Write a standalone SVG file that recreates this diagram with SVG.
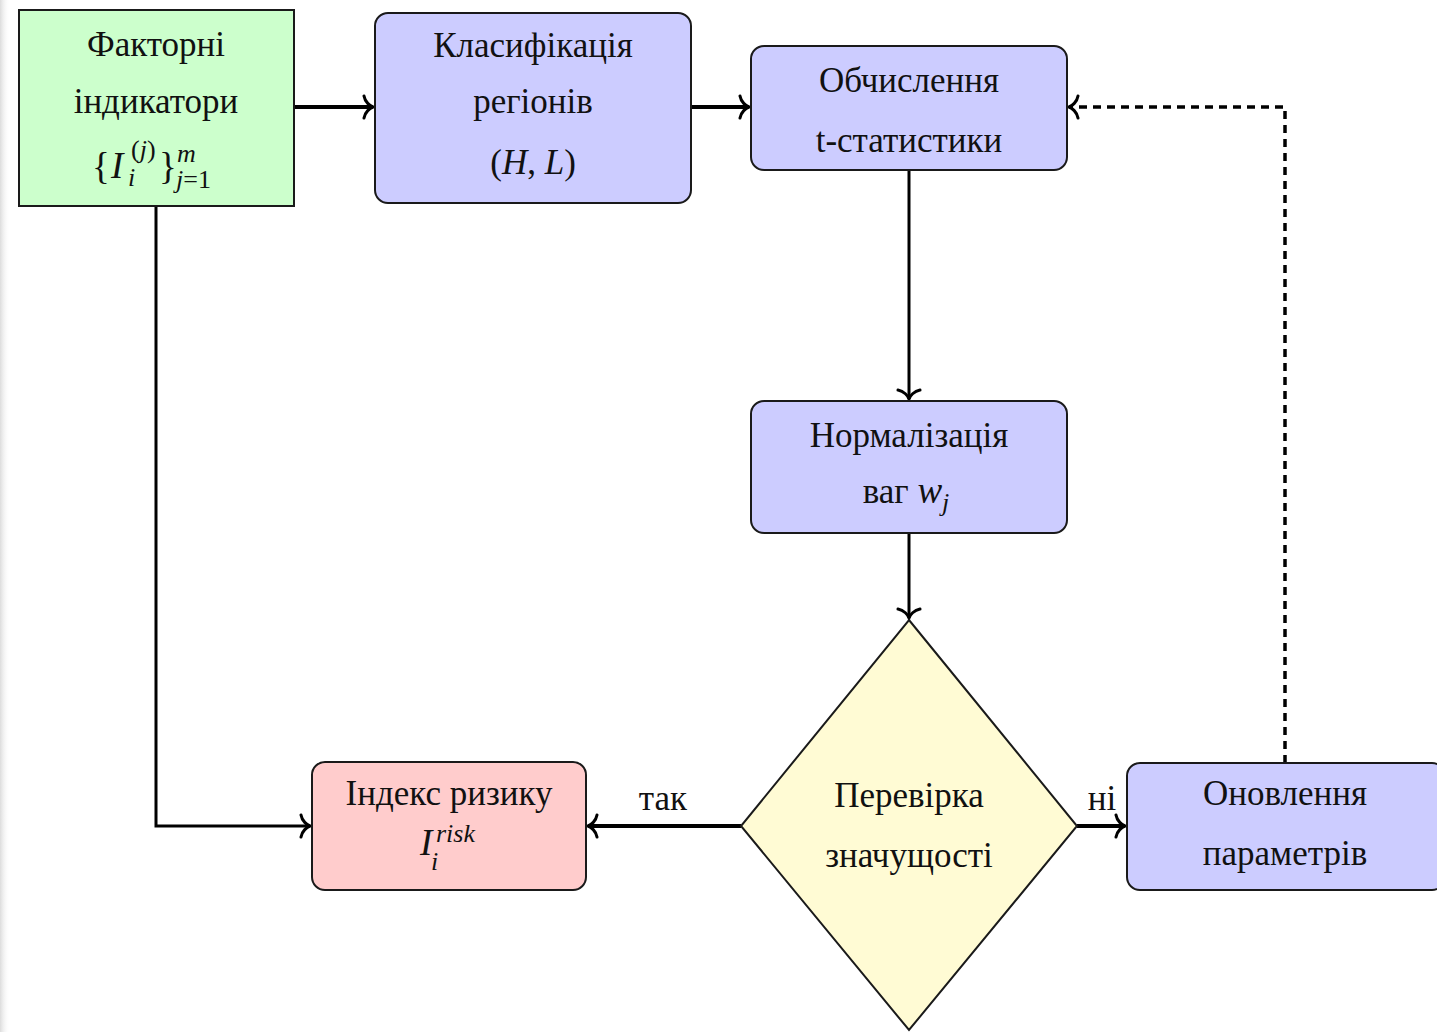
<svg xmlns="http://www.w3.org/2000/svg" width="1437" height="1032" viewBox="0 0 1437 1032">
<style>
  .t{font-family:"Liberation Serif","Times New Roman",serif;font-size:35px;fill:#111;text-anchor:middle}
  .m{font-family:"Liberation Serif","Times New Roman",serif;fill:#111}
  .i{font-style:italic}
  .node{stroke:#1a1a1a;stroke-width:2}
  .blue{fill:#ccccff}
  .conn{fill:none;stroke:#000;stroke-linejoin:miter}
</style>
<defs>
  <linearGradient id="edge" x1="0" y1="0" x2="1" y2="0">
    <stop offset="0" stop-color="#dcdcdc"/>
    <stop offset="1" stop-color="#ffffff" stop-opacity="0"/>
  </linearGradient>
  <marker id="ah" markerUnits="userSpaceOnUse" viewBox="-14 -14 16 28" refX="0" refY="0" markerWidth="16" markerHeight="28" orient="auto">
    <path d="M -9 -11 C -8 -5, -3 -1, 0 0 C -3 1, -8 5, -9 11" fill="none" stroke="#000" stroke-width="3" stroke-linecap="round"/>
  </marker>
</defs>
<rect x="0" y="0" width="1437" height="1032" fill="#ffffff"/>
<rect x="0" y="0" width="10" height="1032" fill="url(#edge)"/>

<g id="connectors">
  <path class="conn" d="M 294 107 L 373 107" stroke-width="4" marker-end="url(#ah)"/>
  <path class="conn" d="M 691 107 L 749 107" stroke-width="4" marker-end="url(#ah)"/>
  <path class="conn" d="M 909 170 L 909 399" stroke-width="3" marker-end="url(#ah)"/>
  <path class="conn" d="M 909 533 L 909 618" stroke-width="3" marker-end="url(#ah)"/>
  <path class="conn" d="M 156 206 L 156 826 L 310 826" stroke-width="3" marker-end="url(#ah)"/>
  <path class="conn" d="M 741 826 L 588 826" stroke-width="4" marker-end="url(#ah)"/>
  <path class="conn" d="M 1077 826 L 1125 826" stroke-width="4" marker-end="url(#ah)"/>
  <path class="conn" d="M 1285 763 L 1285 107 L 1069 107" stroke-width="3.5" stroke-dasharray="8 6" marker-end="url(#ah)"/>
  <text class="t" x="663" y="810">так</text>
  <text class="t" x="1102" y="810">ні</text>
</g>

<g id="node-factors">
  <rect class="node" x="19" y="10" width="275" height="196" fill="#ccffcc"/>
  <text class="t" x="156" y="56">Факторні</text>
  <text class="t" x="156" y="113">індикатори</text>
  <text class="m" x="92" y="179" font-size="37">{</text>
  <text class="m i" x="111" y="178" font-size="37">I</text>
  <text class="m" x="131" y="158" font-size="26">(<tspan class="i">j</tspan>)</text>
  <text class="m i" x="128" y="186" font-size="26">i</text>
  <text class="m" x="159" y="179" font-size="37">}</text>
  <text class="m i" x="177" y="162" font-size="26">m</text>
  <text class="m" x="176" y="188" font-size="26"><tspan class="i">j</tspan>=1</text>
</g>

<g id="node-classify">
  <rect class="node blue" x="375" y="13" width="316" height="190" rx="13"/>
  <text class="t" x="533" y="57">Класифікація</text>
  <text class="t" x="533" y="113">регіонів</text>
  <text class="t" x="533" y="174" font-size="37">(<tspan class="i">H</tspan>, <tspan class="i">L</tspan>)</text>
</g>

<g id="node-tstat">
  <rect class="node blue" x="751" y="46" width="316" height="124" rx="13"/>
  <text class="t" x="909" y="92">Обчислення</text>
  <text class="t" x="909" y="152">t-статистики</text>
</g>

<g id="node-normalize">
  <rect class="node blue" x="751" y="401" width="316" height="132" rx="13"/>
  <text class="t" x="909" y="447">Нормалізація</text>
  <text class="t" x="906" y="503">ваг <tspan class="i" font-size="37">w</tspan><tspan class="i" font-size="26" dy="8">j</tspan></text>
</g>

<g id="node-check">
  <polygon class="node" points="909,620 1077,826 909,1030 741,826" fill="#fffbd4"/>
  <text class="t" x="909" y="807">Перевірка</text>
  <text class="t" x="909" y="867">значущості</text>
</g>

<g id="node-risk">
  <rect class="node" x="312" y="762" width="274" height="128" rx="13" fill="#ffcccc"/>
  <text class="t" x="449" y="805">Індекс ризику</text>
  <text class="m i" x="420" y="855" font-size="37">I</text>
  <text class="m i" x="436" y="842" font-size="26">risk</text>
  <text class="m i" x="431" y="870" font-size="26">i</text>
</g>

<g id="node-update">
  <rect class="node blue" x="1127" y="763" width="318" height="127" rx="13"/>
  <text class="t" x="1285" y="805">Оновлення</text>
  <text class="t" x="1285" y="865">параметрів</text>
</g>
</svg>
